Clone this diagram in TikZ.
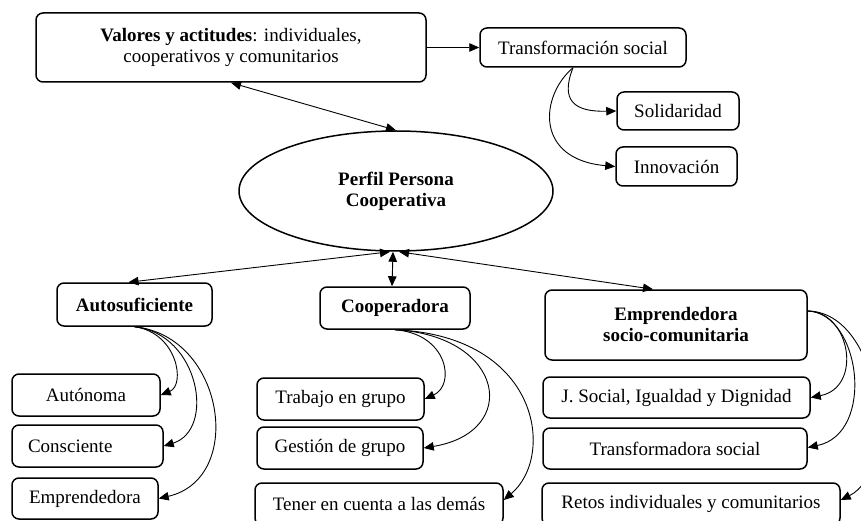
\documentclass[tikz,border=0pt]{standalone}
\usepackage{fontspec}
\setmainfont{Liberation Serif}
\usetikzlibrary{arrows.meta,shapes.geometric}
\tikzset{
  every node/.style={font=\fontsize{19}{21}\selectfont},
  rbox/.style={draw, line width=1.5pt, rounded corners=7pt, inner sep=0pt, align=center},
  ebox/.style={draw, line width=1.5pt, ellipse, inner sep=0pt, align=center, font=\fontsize{19}{21}\selectfont\bfseries},
  arr/.style={line width=0.9pt, -{Triangle[length=10pt,width=8.5pt]}},
  darr/.style={line width=0.9pt, {Triangle[length=10pt,width=8.5pt]}-{Triangle[length=10pt,width=8.5pt]}}
}
\begin{document}
\begin{tikzpicture}[x=1pt,y=-1pt]
\useasboundingbox (0,0) rectangle (861,521);
% top
\node[rbox, minimum width=390pt, minimum height=69pt] (val) at (231,47.5) {\textbf{Valores y actitudes}: individuales,\\cooperativos y comunitarios};
\node[rbox, minimum width=206pt, minimum height=39pt] (trans) at (583,47.5) {Transformación social};
\node[rbox, minimum width=122pt, minimum height=38pt] (sol) at (678,111) {Solidaridad};
\node[rbox, minimum width=121pt, minimum height=39pt] (inn) at (676.5,166.5) {Innovación};
\node[ebox, minimum width=314pt, minimum height=120pt] (ell) at (396,191) {Perfil Persona\\Cooperativa};
% second level
\node[rbox, minimum width=155pt, minimum height=43pt, font=\fontsize{19}{21}\selectfont\bfseries] (auto) at (134.5,304.5) {Autosuficiente};
\node[rbox, minimum width=150pt, minimum height=42pt, font=\fontsize{19}{21}\selectfont\bfseries] (coop) at (395,308) {Cooperadora};
\node[rbox, minimum width=262pt, minimum height=70pt, font=\fontsize{19}{21}\selectfont\bfseries] (emp) at (676,325) {Emprendedora\\socio-comunitaria};
% leaves
\node[rbox, minimum width=148pt, minimum height=42pt] (auton) at (86,395) {Autónoma};
\node[rbox, text width=119pt, inner xsep=16pt, align=left, minimum height=42pt] (consc) at (87.5,446) {Consciente};
\node[rbox, minimum width=146pt, minimum height=41pt] (empr) at (85,498.5) {Emprendedora};
\node[rbox, minimum width=167pt, minimum height=42pt] (trab) at (340.5,399) {Trabajo en grupo};
\node[rbox, minimum width=166pt, minimum height=42pt] (gest) at (340,448) {Gestión de grupo};
\node[rbox, minimum width=248pt, minimum height=42pt] (tener) at (379,504) {Tener en cuenta a las demás};
\node[rbox, minimum width=267pt, minimum height=41pt] (jsoc) at (676.5,397.5) {J. Social, Igualdad y Dignidad};
\node[rbox, minimum width=264pt, minimum height=41pt] (transf) at (675,448.5) {Transformadora social};
\node[rbox, minimum width=298pt, minimum height=42pt] (retos) at (691,504) {Retos individuales y comunitarios};
% connectors top
\draw[arr] (val.east) -- (trans.west);
\draw[darr] (val.south) -- (ell.north);
\draw[arr] ([xshift=-10pt]trans.south) .. controls +(-13,33) and +(-42,1) .. (sol.west);
\draw[arr] ([xshift=-10pt]trans.south) .. controls +(-33,28) and +(-81,-7) .. (inn.west);
% ellipse to second level
\draw[darr] ([xshift=-6pt]ell.south) -- ([xshift=-6pt]auto.north);
\draw[darr] ([xshift=-3pt]ell.south) -- ([xshift=-3pt]coop.north);
\draw[darr] ([xshift=3pt]ell.south) -- ([xshift=-23pt]emp.north);
% autosuficiente
\draw[arr] (auto.south) .. controls +(43,6) and +(25,-10) .. (auton.east);
\draw[arr] (auto.south) .. controls +(65,7) and +(52,-16) .. (consc.east);
\draw[arr] (auto.south) .. controls +(90,9) and +(87,-20) .. (empr.east);
% cooperadora
\draw[arr] (coop.south) .. controls +(53,4) and +(31,-14) .. (trab.east);
\draw[arr] (coop.south) .. controls +(110,6) and +(97,-16) .. (gest.east);
\draw[arr] (coop.south) .. controls +(145,6) and +(52,-44) .. ([yshift=4pt]tener.east);
% emprendedora
\draw[arr] ([yshift=14pt]emp.east) .. controls +(43,1) and +(52,-10) .. (jsoc.east);
\draw[arr] ([yshift=14pt]emp.east) .. controls +(53,2) and +(68,-14) .. ([yshift=1pt]transf.east);
\draw[arr] ([yshift=14pt]emp.east) .. controls +(73,1) and +(60,-30) .. ([yshift=4pt]retos.east);
\end{tikzpicture}
\end{document}
